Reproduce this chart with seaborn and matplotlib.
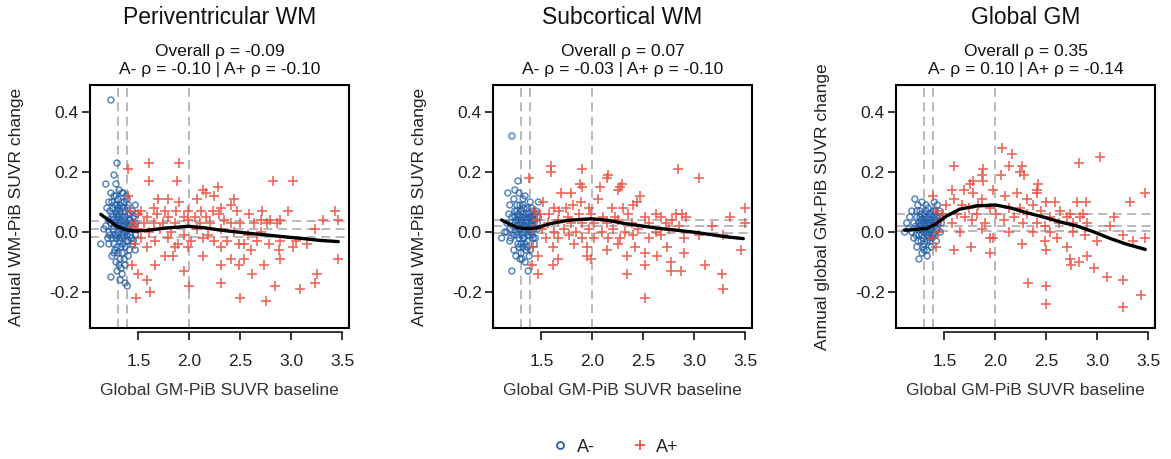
import matplotlib
matplotlib.use("Agg")
import matplotlib.pyplot as plt
from matplotlib.lines import Line2D
from matplotlib.patches import Rectangle
import pandas as pd
import seaborn as sns

sns.set_style("white")
plt.rcParams['font.family'] = ['Liberation Sans', 'DejaVu Sans']

# ---- chart data ----
titles = ["Periventricular WM", "Subcortical WM", "Global GM"]
rho_overall = ["-0.09", "0.07", "0.35"]
rho_neg = ["-0.10", "-0.03", "0.10"]
rho_pos = ["-0.10", "-0.10", "-0.14"]
ylabels = ["Annual WM-PiB SUVR change", "Annual WM-PiB SUVR change",
           "Annual global GM-PiB SUVR change"]
xlabel = "Global GM-PiB SUVR baseline"
xticks = [1.5, 2.0, 2.5, 3.0, 3.5]
yticks = [-0.2, 0.0, 0.2, 0.4]
cut_x = [1.30, 1.39, 2.0]
cut_y = [[0.037, 0.010, -0.017], [0.041, 0.020, -0.004], [0.059, 0.020, 0.003]]

# A- (amyloid negative) points, (baseline, annual change)
periv_neg = [
    (1.23, 0.44), (1.29, 0.23), (1.26, 0.19), (1.18, 0.16), (1.28, 0.16), (1.31, 0.14),
    (1.23, 0.13), (1.34, 0.13), (1.26, 0.12), (1.39, 0.11), (1.21, 0.10), (1.32, 0.09),
    (1.40, 0.09), (1.47, 0.09), (1.19, 0.08), (1.29, 0.07), (1.37, 0.07), (1.48, 0.06),
    (1.24, 0.06), (1.34, 0.05), (1.42, 0.04), (1.21, 0.04), (1.31, 0.03), (1.39, 0.03),
    (1.47, 0.03), (1.18, 0.02), (1.26, 0.02), (1.34, 0.01), (1.44, 0.01), (1.21, 0.00),
    (1.29, -0.01), (1.39, -0.01), (1.47, -0.01), (1.16, 0.01), (1.24, -0.02), (1.32, -0.03),
    (1.40, -0.03), (1.13, -0.04), (1.21, -0.04), (1.29, -0.05), (1.37, -0.05), (1.44, -0.04),
    (1.26, -0.07), (1.34, -0.07), (1.40, -0.08), (1.24, -0.08), (1.32, -0.09), (1.37, -0.11),
    (1.29, -0.13), (1.23, -0.15), (1.32, -0.16), (1.37, -0.17), (1.39, -0.18), (1.47, -0.06),
    (1.45, -0.03), (1.42, 0.06), (1.27, 0.03), (1.30, 0.05), (1.33, 0.02), (1.36, 0.04),
    (1.28, -0.02), (1.35, -0.01), (1.30, 0.00), (1.25, 0.05), (1.38, 0.00), (1.32, 0.07),
    (1.27, 0.09), (1.36, 0.10), (1.30, 0.11), (1.41, 0.02), (1.26, -0.04), (1.35, -0.04),
    (1.43, -0.02), (1.22, 0.07), (1.33, -0.05), (1.38, 0.12), (1.41, -0.06), (1.28, 0.12),
    (1.24, 0.10), (1.35, 0.13), (1.30, -0.07), (1.36, -0.09), (1.33, -0.12), (1.28, -0.10),
    (1.20, -0.02), (1.45, 0.05), (1.25, 0.01), (1.27, -0.01), (1.29, 0.02), (1.31, 0.06),
    (1.33, 0.04), (1.35, 0.02), (1.37, 0.05), (1.39, 0.01), (1.41, 0.04), (1.43, 0.03),
    (1.26, 0.04), (1.28, 0.06), (1.30, 0.08), (1.32, 0.01), (1.34, -0.02), (1.36, 0.00),
    (1.38, -0.03), (1.40, 0.06), (1.42, -0.01), (1.44, 0.07), (1.27, -0.06), (1.31, -0.02),
    (1.35, 0.08), (1.39, 0.08), (1.29, 0.09), (1.33, 0.10), (1.25, 0.08), (1.37, 0.02),
    (1.31, -0.11), (1.34, -0.14), (1.23, 0.03), (1.46, 0.02), (1.22, -0.01), (1.29, 0.04),
]
subc_neg = [
    (1.21, 0.32), (1.27, 0.17), (1.17, 0.13), (1.24, 0.14), (1.28, 0.13), (1.23, 0.11),
    (1.32, 0.11), (1.39, 0.10), (1.47, 0.10), (1.19, 0.09), (1.29, 0.09), (1.36, 0.08),
    (1.24, 0.07), (1.42, 0.07), (1.18, 0.06), (1.32, 0.06), (1.39, 0.05), (1.47, 0.05),
    (1.21, 0.05), (1.27, 0.04), (1.36, 0.04), (1.44, 0.04), (1.16, 0.03), (1.24, 0.03),
    (1.32, 0.02), (1.41, 0.02), (1.19, 0.01), (1.29, 0.01), (1.37, 0.00), (1.46, 0.01),
    (1.14, 0.00), (1.23, -0.01), (1.31, -0.01), (1.41, -0.01), (1.11, -0.02), (1.19, -0.03),
    (1.27, -0.04), (1.36, -0.03), (1.44, -0.02), (1.23, -0.06), (1.32, -0.05), (1.39, -0.06),
    (1.29, -0.09), (1.34, -0.10), (1.21, -0.13), (1.37, -0.13), (1.16, 0.00), (1.26, 0.02),
    (1.30, 0.04), (1.34, 0.02), (1.28, -0.02), (1.35, 0.06), (1.31, 0.03), (1.25, 0.00),
    (1.38, 0.03), (1.33, -0.02), (1.27, 0.06), (1.40, 0.00), (1.30, -0.04), (1.22, 0.02),
    (1.35, -0.06), (1.42, 0.04), (1.26, 0.09), (1.33, 0.08), (1.30, -0.07), (1.38, -0.08),
    (1.20, -0.02), (1.43, -0.04), (1.25, -0.08), (1.34, 0.12), (1.45, 0.07), (1.25, 0.04),
    (1.27, 0.01), (1.29, 0.03), (1.31, 0.05), (1.33, 0.00), (1.35, 0.03), (1.37, 0.05),
    (1.39, 0.02), (1.41, 0.05), (1.43, 0.01), (1.26, -0.01), (1.28, 0.05), (1.30, 0.07),
    (1.32, -0.02), (1.34, 0.05), (1.36, 0.01), (1.38, 0.06), (1.40, 0.03), (1.42, -0.02),
    (1.44, 0.06), (1.28, -0.05), (1.32, 0.09), (1.36, -0.05), (1.40, 0.08), (1.24, 0.05),
    (1.30, 0.01), (1.34, -0.04), (1.38, -0.01), (1.26, 0.07), (1.31, -0.09), (1.46, 0.03),
]
glob_neg = [
    (1.21, 0.11), (1.24, 0.09), (1.28, 0.10), (1.40, 0.10), (1.43, 0.09), (1.18, 0.07),
    (1.26, 0.07), (1.34, 0.08), (1.45, 0.07), (1.16, 0.05), (1.23, 0.05), (1.30, 0.06),
    (1.37, 0.06), (1.42, 0.05), (1.13, 0.03), (1.20, 0.03), (1.27, 0.04), (1.33, 0.03),
    (1.40, 0.04), (1.47, 0.03), (1.15, 0.01), (1.22, 0.02), (1.29, 0.01), (1.36, 0.02),
    (1.43, 0.01), (1.11, 0.00), (1.18, 0.00), (1.25, -0.01), (1.32, 0.00), (1.39, -0.01),
    (1.46, 0.00), (1.20, -0.02), (1.27, -0.03), (1.35, -0.02), (1.42, -0.03), (1.23, -0.05),
    (1.30, -0.04), (1.37, -0.05), (1.28, -0.07), (1.33, -0.06), (1.25, -0.09), (1.26, 0.02),
    (1.30, 0.03), (1.34, 0.05), (1.28, -0.01), (1.31, 0.01), (1.38, 0.03), (1.24, 0.01),
    (1.35, 0.00), (1.41, 0.07), (1.32, 0.07), (1.29, -0.05), (1.36, -0.03), (1.40, 0.02),
    (1.22, -0.01), (1.45, 0.05), (1.33, -0.08), (1.25, 0.03), (1.27, 0.01), (1.29, 0.04),
    (1.31, 0.02), (1.33, 0.01), (1.35, 0.03), (1.37, 0.01), (1.39, 0.05), (1.41, 0.03),
    (1.43, 0.05), (1.26, 0.05), (1.28, 0.03), (1.30, 0.00), (1.32, 0.04), (1.34, -0.01),
    (1.36, 0.04), (1.38, -0.02), (1.40, 0.00), (1.42, 0.01), (1.44, 0.03), (1.27, 0.06),
    (1.31, 0.05), (1.35, 0.06), (1.39, 0.07), (1.29, -0.02), (1.33, -0.03), (1.37, -0.01),
    (1.24, -0.03), (1.30, -0.06), (1.41, -0.01), (1.23, 0.07), (1.46, 0.05), (1.32, 0.09),
]

# A+ (amyloid positive) points
periv_pos = [
    (1.40, 0.21), (1.60, 0.23), (1.90, 0.23), (1.60, 0.17), (1.88, 0.17), (2.82, 0.17),
    (3.02, 0.17), (1.40, 0.12), (2.13, 0.14), (2.28, 0.15), (2.24, 0.12), (2.16, 0.13),
    (1.69, 0.11), (1.79, 0.11), (1.90, 0.10), (2.07, 0.11), (2.44, 0.11), (2.41, 0.09),
    (2.31, 0.08), (2.47, 0.07), (2.71, 0.07), (2.97, 0.07), (3.43, 0.07), (1.53, 0.07),
    (1.65, 0.08), (1.76, 0.07), (1.87, 0.07), (1.99, 0.07), (2.11, 0.07), (2.23, 0.07),
    (1.50, 0.06), (1.58, 0.05), (1.68, 0.06), (1.79, 0.05), (1.95, 0.05), (2.05, 0.05),
    (2.16, 0.05), (2.29, 0.06), (2.34, 0.04), (2.58, 0.06), (2.70, 0.04), (2.79, 0.04),
    (2.89, 0.04), (3.31, 0.04), (3.46, 0.04), (1.47, 0.03), (1.55, 0.03), (1.65, 0.03),
    (1.74, 0.03), (1.86, 0.03), (1.99, 0.04), (2.10, 0.03), (2.20, 0.03), (2.41, 0.03),
    (2.50, 0.03), (2.63, 0.03), (2.76, 0.03), (2.86, 0.03), (3.23, 0.01), (1.50, 0.01),
    (1.60, 0.00), (1.71, 0.01), (1.82, 0.00), (1.95, -0.01), (2.07, 0.01), (2.18, -0.01),
    (2.31, 0.01), (2.44, 0.00), (2.57, -0.01), (2.70, 0.00), (1.53, -0.02), (1.66, -0.03),
    (1.79, -0.02), (1.89, -0.04), (2.02, -0.03), (2.13, -0.02), (2.24, -0.03), (2.37, -0.03),
    (2.54, -0.04), (2.66, -0.03), (2.78, -0.04), (2.89, -0.03), (3.05, -0.03), (3.15, -0.04),
    (1.47, -0.04), (1.58, -0.05), (1.86, -0.05), (1.99, -0.05), (2.31, -0.05), (2.49, -0.04),
    (2.60, -0.06), (2.88, -0.06), (3.02, -0.05), (1.76, -0.08), (1.84, -0.08), (2.13, -0.08),
    (2.41, -0.09), (2.54, -0.09), (2.89, -0.09), (3.46, -0.09), (1.44, -0.11), (1.66, -0.11),
    (1.95, -0.13), (2.31, -0.11), (2.49, -0.11), (2.73, -0.11), (1.50, -0.14), (1.58, -0.16),
    (2.00, -0.18), (2.31, -0.17), (2.61, -0.14), (2.84, -0.18), (3.08, -0.19), (3.25, -0.14),
    (3.23, -0.17), (1.48, -0.22), (1.61, -0.20), (2.50, -0.22), (2.75, -0.23), (1.42, 0.07),
    (1.45, 0.02),
]
subc_pos = [
    (1.38, 0.18), (1.59, 0.22), (1.59, 0.20), (1.90, 0.21), (1.88, 0.16), (1.90, 0.15),
    (2.15, 0.19), (2.14, 0.18), (2.84, 0.21), (3.05, 0.18), (2.29, 0.16), (2.27, 0.15),
    (2.07, 0.15), (2.25, 0.14), (1.69, 0.13), (1.79, 0.13), (1.89, 0.10), (2.05, 0.11),
    (2.47, 0.12), (2.44, 0.10), (2.40, 0.09), (1.52, 0.10), (1.62, 0.08), (1.74, 0.08),
    (1.81, 0.09), (1.97, 0.08), (2.19, 0.08), (2.30, 0.08), (2.62, 0.06), (2.82, 0.06),
    (2.88, 0.06), (3.50, 0.08), (1.49, 0.06), (1.57, 0.06), (1.67, 0.07), (1.76, 0.05),
    (1.87, 0.06), (1.99, 0.06), (2.10, 0.05), (2.22, 0.05), (2.35, 0.06), (2.52, 0.05),
    (2.67, 0.05), (2.78, 0.04), (2.92, 0.05), (3.35, 0.05), (1.46, 0.04), (1.56, 0.03),
    (1.66, 0.04), (1.79, 0.03), (1.90, 0.03), (2.02, 0.03), (2.14, 0.03), (2.25, 0.04),
    (2.39, 0.03), (2.55, 0.03), (2.72, 0.03), (2.85, 0.02), (3.50, 0.03), (1.51, 0.01),
    (1.62, 0.00), (1.72, 0.01), (1.84, 0.00), (1.97, 0.01), (2.09, 0.00), (2.20, 0.01),
    (2.32, 0.00), (2.45, 0.01), (2.62, 0.00), (2.75, 0.01), (3.17, 0.02), (1.54, -0.02),
    (1.66, -0.02), (1.77, -0.01), (1.90, -0.02), (2.02, -0.02), (2.15, -0.02), (2.27, -0.02),
    (2.40, -0.01), (2.55, -0.02), (2.67, -0.01), (2.90, -0.02), (3.05, -0.01), (3.28, -0.01),
    (1.42, -0.05), (1.61, -0.05), (1.82, -0.04), (1.95, -0.05), (2.14, -0.06), (2.25, -0.04),
    (2.42, -0.05), (2.73, -0.05), (2.90, -0.07), (3.46, -0.06), (1.47, -0.08), (1.66, -0.09),
    (1.95, -0.08), (2.34, -0.08), (2.52, -0.07), (2.63, -0.08), (1.61, -0.11), (1.99, -0.09),
    (2.52, -0.11), (2.77, -0.10), (2.77, -0.13), (2.87, -0.13), (3.10, -0.11), (1.41, -0.11),
    (1.47, -0.14), (2.34, -0.14), (3.27, -0.14), (3.28, -0.19), (2.52, -0.22), (1.42, 0.01),
    (1.44, 0.07),
]
glob_pos = [
    (2.06, 0.28), (2.16, 0.26), (2.82, 0.23), (3.03, 0.25), (1.59, 0.22), (1.88, 0.21),
    (1.87, 0.19), (2.13, 0.22), (2.26, 0.22), (2.24, 0.20), (2.28, 0.19), (2.05, 0.19),
    (1.78, 0.17), (1.88, 0.17), (1.75, 0.16), (1.57, 0.14), (1.69, 0.14), (1.98, 0.14),
    (2.42, 0.16), (2.41, 0.14), (2.41, 0.13), (3.47, 0.13), (1.39, 0.12), (1.59, 0.11),
    (1.78, 0.13), (1.87, 0.11), (2.09, 0.12), (2.21, 0.13), (2.31, 0.11), (2.50, 0.10),
    (2.58, 0.10), (2.80, 0.10), (2.89, 0.10), (3.32, 0.10), (1.52, 0.09), (1.67, 0.09),
    (1.74, 0.08), (1.83, 0.09), (1.95, 0.08), (2.13, 0.08), (2.24, 0.08), (2.37, 0.09),
    (2.45, 0.07), (2.63, 0.07), (2.73, 0.06), (2.86, 0.06), (1.49, 0.06), (1.62, 0.06),
    (1.70, 0.05), (1.82, 0.06), (2.01, 0.06), (2.18, 0.05), (2.31, 0.06), (2.54, 0.05),
    (2.70, 0.05), (2.83, 0.05), (3.16, 0.05), (1.46, 0.04), (1.57, 0.03), (1.77, 0.04),
    (1.90, 0.03), (2.08, 0.04), (2.27, 0.03), (2.41, 0.03), (2.49, 0.02), (2.62, 0.03),
    (2.76, 0.03), (2.90, 0.03), (3.12, 0.02), (1.44, 0.00), (1.65, 0.00), (1.87, 0.01),
    (2.13, 0.00), (2.37, 0.00), (2.54, 0.00), (2.76, 0.00), (1.95, -0.02), (1.98, -0.02),
    (2.26, -0.04), (2.49, -0.03), (2.60, -0.02), (2.88, -0.01), (3.00, -0.03), (3.25, -0.01),
    (3.35, -0.03), (3.47, -0.02), (1.42, -0.05), (1.59, -0.06), (1.76, -0.05), (2.50, -0.06),
    (2.70, -0.05), (1.95, -0.07), (2.73, -0.09), (2.90, -0.08), (2.74, -0.11), (2.82, -0.10),
    (2.97, -0.12), (3.09, -0.15), (3.25, -0.16), (2.32, -0.17), (2.50, -0.18), (2.50, -0.24),
    (3.25, -0.25), (3.43, -0.21), (1.39, -0.02), (1.42, 0.07),
]

# smoothed fit lines
periv_fit_x = [1.13, 1.21, 1.29, 1.37, 1.47, 1.60, 1.76, 1.99, 2.15, 2.31, 2.47, 2.63, 2.79, 2.96, 3.12, 3.28, 3.46]
periv_fit_y = [0.059, 0.039, 0.019, 0.008, 0.003, 0.006, 0.013, 0.019, 0.014, 0.006, 0.0, -0.006, -0.011, -0.017, -0.022, -0.028, -0.032]
subc_fit_x = [1.11, 1.19, 1.27, 1.36, 1.46, 1.59, 1.76, 1.99, 2.15, 2.32, 2.49, 2.65, 2.82, 2.98, 3.15, 3.31, 3.48]
subc_fit_y = [0.040, 0.026, 0.014, 0.011, 0.014, 0.028, 0.039, 0.044, 0.039, 0.028, 0.020, 0.012, 0.006, 0.0, -0.008, -0.016, -0.022]
glob_fit_x = [1.11, 1.33, 1.41, 1.52, 1.65, 1.82, 2.00, 2.14, 2.31, 2.47, 2.63, 2.80, 2.96, 3.12, 3.29, 3.47]
glob_fit_y = [0.006, 0.012, 0.026, 0.053, 0.076, 0.087, 0.090, 0.081, 0.064, 0.050, 0.034, 0.020, 0.001, -0.021, -0.041, -0.058]

neg_sets = [periv_neg, subc_neg, glob_neg]
pos_sets = [periv_pos, subc_pos, glob_pos]
fits = [(periv_fit_x, periv_fit_y), (subc_fit_x, subc_fit_y), (glob_fit_x, glob_fit_y)]

blue = "#235fa8"
red = "#ee4b3b"
dash_grey = "#b3b3b3"

fig = plt.figure(figsize=(11.71, 4.59), dpi=100)
lefts = [90 / 1171, 493 / 1171, 896 / 1171]
axes = [fig.add_axes([l, 131 / 459, 259 / 1171, 243 / 459]) for l in lefts]

for i, ax in enumerate(axes):
    neg = pd.DataFrame(neg_sets[i], columns=["x", "y"])
    pos = pd.DataFrame(pos_sets[i], columns=["x", "y"])

    for cx in cut_x:
        ax.axvline(cx, color=dash_grey, lw=1.3, dashes=(5, 3), zorder=1)
    for cy in cut_y[i]:
        ax.axhline(cy, color=dash_grey, lw=1.3, dashes=(5, 3), zorder=1)

    sns.scatterplot(data=neg, x="x", y="y", ax=ax, marker="o", s=18,
                    facecolor="none", edgecolor=blue, linewidth=1.1,
                    alpha=0.75, legend=False, zorder=2)
    sns.scatterplot(data=pos, x="x", y="y", ax=ax, marker="+", s=44,
                    color=red, linewidth=1.2, alpha=0.85, legend=False, zorder=2)
    sns.lineplot(x=fits[i][0], y=fits[i][1], ax=ax, color="black", lw=2.4,
                 sort=False, zorder=3)

    ax.set_xlim(1.025, 3.565)
    ax.set_ylim(-0.32, 0.49)
    ax.set_xticks(xticks)
    ax.set_xticklabels([f"{t:.1f}" for t in xticks])
    ax.set_yticks(yticks)
    ax.set_yticklabels([f"{t:.1f}" for t in yticks])
    ax.tick_params(axis="both", direction="out", length=6, width=1.1,
                   labelsize=12.5, color="black", labelcolor="#222222")
    ax.tick_params(axis="x", pad=10)
    ax.tick_params(axis="y", pad=2)
    ax.tick_params(left=True, bottom=True)

    for side in ["top", "right"]:
        ax.spines[side].set_visible(False)
    ax.spines["bottom"].set_position(("outward", 3))
    ax.spines["bottom"].set_bounds(1.5, 3.5)
    ax.spines["left"].set_bounds(-0.2, 0.4)
    for side in ["left", "bottom"]:
        ax.spines[side].set_linewidth(1.1)
        ax.spines[side].set_color("black")
    ax.add_patch(Rectangle((0, 0), 1, 1, transform=ax.transAxes, fill=False,
                           lw=1.5, ec="black", zorder=5, clip_on=False))

    ax.set_xlabel(xlabel, fontsize=12.5, color="#333333")
    ax.set_ylabel(ylabels[i], fontsize=12.5, color="#222222")
    ax.xaxis.set_label_coords(0.5, -0.225)
    ax.yaxis.set_label_coords(-0.255, 0.5)

    ax.text(0.5, 1.276, titles[i], transform=ax.transAxes, ha="center",
            va="center", fontsize=16.5, color="#111111")
    ax.text(0.5, 1.138, f"Overall \u03c1 = {rho_overall[i]}", transform=ax.transAxes,
            ha="center", va="center", fontsize=12.5, color="#111111")
    ax.text(0.5, 1.064, f"A- \u03c1 = {rho_neg[i]} | A+ \u03c1 = {rho_pos[i]}",
            transform=ax.transAxes, ha="center", va="center", fontsize=12.5,
            color="#111111")

handles = [
    Line2D([], [], marker="o", ls="none", mfc="none", mec=blue, ms=5, mew=1.3),
    Line2D([], [], marker="+", ls="none", color=red, ms=7, mew=1.2),
]
fig.legend(handles, ["A-", "A+"], loc="center", ncol=2, frameon=False,
           bbox_to_anchor=(0.525, 1 - 447 / 459), fontsize=13,
           handletextpad=0.4, columnspacing=2.0, handlelength=1.0)

fig.savefig("out.png", dpi=100)
